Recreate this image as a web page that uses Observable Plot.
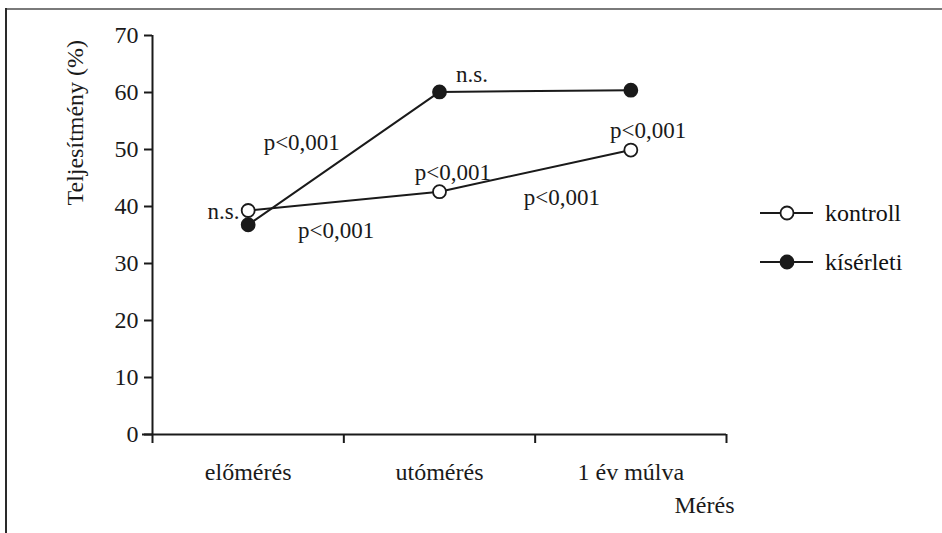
<!DOCTYPE html>
<html>
<head>
<meta charset="utf-8">
<script src="https://cdn.jsdelivr.net/npm/d3@7"></script>
<script src="https://cdn.jsdelivr.net/npm/@observablehq/plot@0.6"></script>
<style>
  html, body { margin: 0; padding: 0; background: #fff; overflow: hidden; }
  #wrap { position: relative; width: 942px; height: 533px; overflow: hidden; }
  #frameTop { position: absolute; left: 5px; top: 8px; width: 937px; height: 2px; background: #7a7a7a; }
  #frameLeft { position: absolute; left: 5px; top: 8px; width: 2px; height: 525px; background: #2a2a2a; }
  #chart { position: absolute; left: 0; top: 0; }
  #legend { position: absolute; left: 758px; top: 198px; font-family: "Liberation Serif", "Times New Roman", serif; font-size: 24px; color: #111; }
  .row { display: flex; align-items: center; height: 30px; margin-bottom: 19px; }
  .row svg { margin-right: 11px; }
</style>
</head>
<body>
<div id="wrap">
  <div id="chart"></div>
  <div id="frameTop"></div>
  <div id="frameLeft"></div>
  <div id="legend"></div>
</div>
<script>
// ---- data ----
const categories = ["előmérés", "utómérés", "1 év múlva"];
const seriesNames = ["kontroll", "kísérleti"];
const kontroll = [39.3, 42.6, 49.9];
const kiserleti = [36.8, 60.1, 60.4];
const yTicks = [0, 10, 20, 30, 40, 50, 60, 70];
const annLabels = ["p<0,001", "n.s.", "p<0,001", "p<0,001", "n.s.", "p<0,001", "p<0,001"];
const annX = [0.78, 0.455, 0.96, 1.57, 1.67, 2.59, 2.14];
const annY = [51.2, 39.1, 35.8, 46.0, 63.2, 53.3, 41.6];
const annAnchor = ["middle", "end", "middle", "middle", "middle", "middle", "middle"];
const yLabel = "Teljesítmény (%)";
const yLabelAt = 54.7;
const xLabel = "Mérés";

// ---- build tables ----
const points = [];
categories.forEach((c, i) => {
  points.push({series: "kontroll", cat: c, i: i + 0.5, v: kontroll[i]});
});
categories.forEach((c, i) => {
  points.push({series: "kísérleti", cat: c, i: i + 0.5, v: kiserleti[i]});
});
const anns = annLabels.map((t, k) => ({t, x: annX[k], y: annY[k], a: annAnchor[k]}));

const font = '"Liberation Serif", "Times New Roman", serif';
const ink = "#1a1a1a";
const fs = 24;

const chart = Plot.plot({
  width: 942,
  height: 533,
  marginLeft: 152,
  marginRight: 216,
  marginTop: 35,
  marginBottom: 99,
  style: {fontFamily: font, fontSize: fs + "px", color: ink, background: "transparent", overflow: "visible"},
  x: {type: "linear", domain: [0, categories.length]},
  y: {domain: [0, 70]},
  marks: [
    Plot.axisY({ticks: yTicks, tickSize: 8, tickPadding: 6, label: null, stroke: ink, strokeWidth: 2, fontSize: fs}),
    Plot.axisX({ticks: d3.range(categories.length + 1), tickSize: 9, tickFormat: () => "", label: null, stroke: ink, strokeWidth: 2}),
    Plot.axisX({ticks: categories.map((c, i) => i + 0.5), tickSize: 0, tickPadding: 28, tickFormat: (d) => categories[Math.floor(d)], label: null, fontSize: fs}),
    Plot.ruleX([0], {stroke: ink, strokeWidth: 2}),
    Plot.ruleY([0], {stroke: ink, strokeWidth: 2, insetLeft: -10}),
    Plot.line(points, {x: "i", y: "v", z: "series", stroke: ink, strokeWidth: 2}),
    Plot.dot(points, {x: "i", y: "v", r: 6.5, stroke: ink, strokeWidth: 1.8,
      fill: (d) => d.series === "kontroll" ? "#fff" : ink}),
    Plot.text(anns.filter((d) => d.a === "middle"), {x: "x", y: "y", text: "t", textAnchor: "middle", fontSize: 23, fill: ink}),
    Plot.text(anns.filter((d) => d.a === "end"), {x: "x", y: "y", text: "t", textAnchor: "end", fontSize: 23, fill: ink}),
    Plot.text([{t: yLabel, y: yLabelAt}], {frameAnchor: "left", y: "y", text: "t", dx: -77, rotate: -90, textAnchor: "middle", fontSize: fs, fill: ink}),
    Plot.text([{t: xLabel}], {frameAnchor: "bottom-right", text: "t", dx: 8, dy: 78, textAnchor: "end", fontSize: fs, fill: ink})
  ]
});
document.getElementById("chart").appendChild(chart);

// ---- legend ----
const legend = document.getElementById("legend");
seriesNames.forEach((name) => {
  const row = document.createElement("div");
  row.className = "row";
  const filled = name !== "kontroll";
  row.innerHTML = `<svg width="56" height="30"><line x1="2" x2="55" y1="15" y2="15" stroke="${ink}" stroke-width="2"/>` +
    `<circle cx="29" cy="15" r="6.5" fill="${filled ? ink : "#fff"}" stroke="${ink}" stroke-width="1.8"/></svg><span>${name}</span>`;
  legend.appendChild(row);
});
</script>
</body>
</html>
